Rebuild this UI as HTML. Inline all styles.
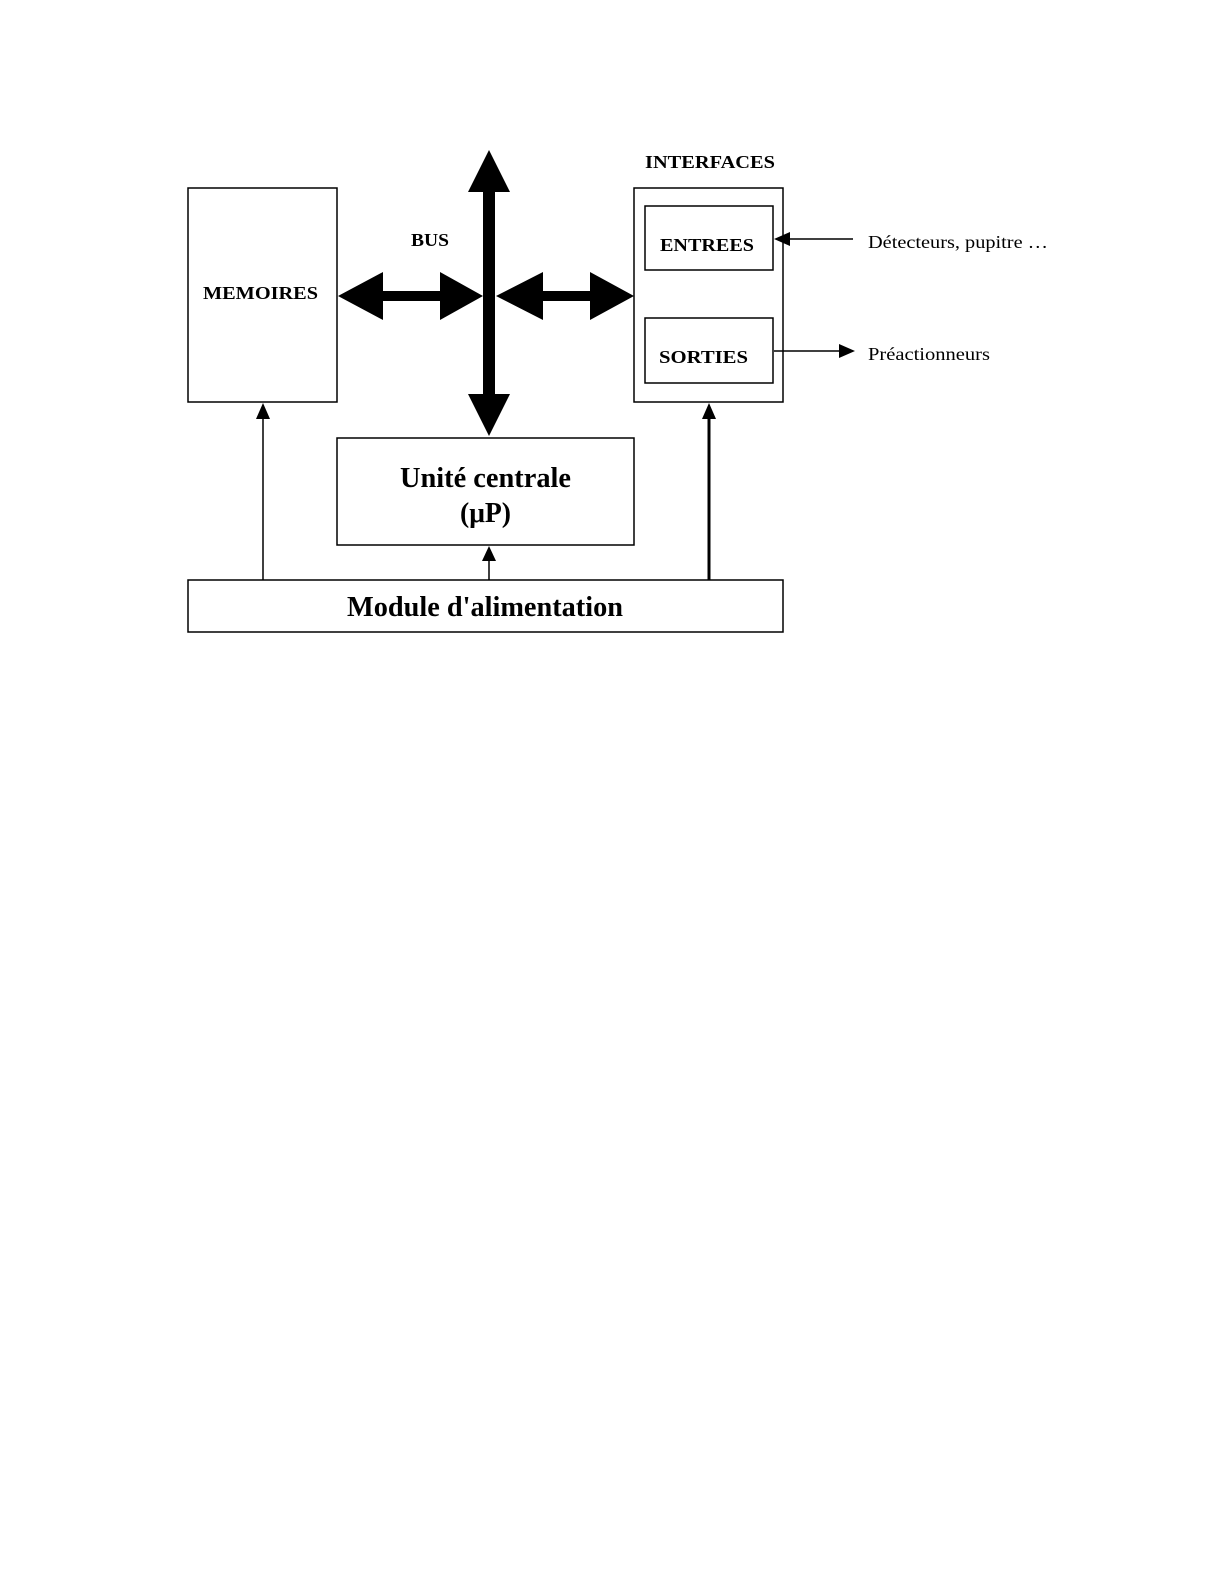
<!DOCTYPE html>
<html><head><style>
body{margin:0;background:#fff}
svg{display:block}
text{font-family:"Liberation Serif",serif;fill:#000}
</style></head><body>
<svg width="1224" height="1584" viewBox="0 0 1224 1584">
<g fill="none" stroke="#000" stroke-width="1.5">
<rect x="188" y="188" width="149" height="214"/>
<rect x="634" y="188" width="149" height="214"/>
<rect x="645" y="206" width="128" height="64"/>
<rect x="645" y="318" width="128" height="65"/>
<rect x="337" y="438" width="297" height="107"/>
<rect x="188" y="580" width="595" height="52"/>
<line x1="263" y1="580" x2="263" y2="418"/>
<line x1="489" y1="580" x2="489" y2="560"/>
<line x1="709" y1="580" x2="709" y2="418" stroke-width="3"/>
<line x1="853" y1="239" x2="788" y2="239"/>
<line x1="774" y1="351" x2="840" y2="351"/>
</g>
<g fill="#000">
<polygon points="263,403 256,419 270,419"/>
<polygon points="489,546 482,561 496,561"/>
<polygon points="709,403 702,419 716,419"/>
<polygon points="774,239 790,232 790,246"/>
<polygon points="855,351 839,344 839,358"/>
<polygon points="489,150 510,192 495,192 495,394 510,394 489,436 468,394 483,394 483,192 468,192"/>
<polygon points="338,296 383,272 383,291 440,291 440,272 483,296 440,320 440,301 383,301 383,320"/>
<polygon points="496,296 543,272 543,291 590,291 590,272 634,296 590,320 590,301 543,301 543,320"/>
</g>
<g font-weight="bold" lengthAdjust="spacingAndGlyphs">
<text x="645" y="168" font-size="18" textLength="130" lengthAdjust="spacingAndGlyphs">INTERFACES</text>
<text x="411" y="246" font-size="18" textLength="38" lengthAdjust="spacingAndGlyphs">BUS</text>
<text x="203" y="299" font-size="18" textLength="115" lengthAdjust="spacingAndGlyphs">MEMOIRES</text>
<text x="660" y="251" font-size="18" textLength="94" lengthAdjust="spacingAndGlyphs">ENTREES</text>
<text x="659" y="363" font-size="18" textLength="89" lengthAdjust="spacingAndGlyphs">SORTIES</text>
<text x="400" y="487" font-size="28" textLength="171" lengthAdjust="spacingAndGlyphs">Unité centrale</text>
<text x="460" y="522" font-size="28" textLength="51" lengthAdjust="spacingAndGlyphs">(μP)</text>
<text x="347" y="616" font-size="28" textLength="276" lengthAdjust="spacingAndGlyphs">Module d'alimentation</text>
</g>
<text x="868" y="248" font-size="18" textLength="180" lengthAdjust="spacingAndGlyphs">Détecteurs, pupitre …</text>
<text x="868" y="360" font-size="18" textLength="122" lengthAdjust="spacingAndGlyphs">Préactionneurs</text>
</svg>
</body></html>
